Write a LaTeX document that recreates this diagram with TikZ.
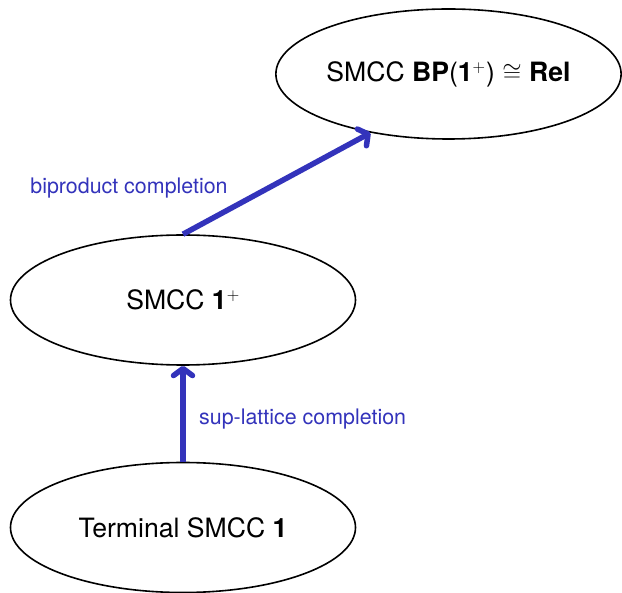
\documentclass[tikz,border=0pt]{standalone}
\usepackage{fontspec}
\setmainfont{TeX Gyre Heros}
\usetikzlibrary{shapes.geometric,arrows.meta}
\definecolor{arrowblue}{RGB}{51,51,187}
\begin{document}
\begin{tikzpicture}[x=1pt,y=-1pt,
  cat/.style={draw, ellipse, line width=1.6pt, minimum width=345pt,
    minimum height=130pt, inner sep=0pt, font=\fontsize{26.6}{31}\selectfont},
  link/.style={draw=arrowblue, line width=5.5pt,
    -{Straight Barb[round,length=7pt,width=19pt]}},
  lbl/.style={text=arrowblue, inner sep=0pt, font=\fontsize{21.4}{26}\selectfont}]
\useasboundingbox (0,0) rectangle (622,593);

% categories
\node[cat] (rel)  at (448.5,74)  {SMCC \textbf{BP}(\textbf{1}$^{+}$\kern0.5pt) $\cong$ \textbf{Rel}};
\node[cat] (plus) at (183,300)   {SMCC \textbf{1}$^{+}$};
\node[cat] (term) at (183,527.5) {Terminal SMCC \textbf{1}};

% completions
\draw[link] (plus.north) -- (rel.217);
\draw[link] (term.north) -- (plus.south);

\node[lbl] (bp) at (129,188) {biproduct completion};
\node[lbl, anchor=west] (sl) at (199,419) {sup-lattice completion};
\end{tikzpicture}
\end{document}
